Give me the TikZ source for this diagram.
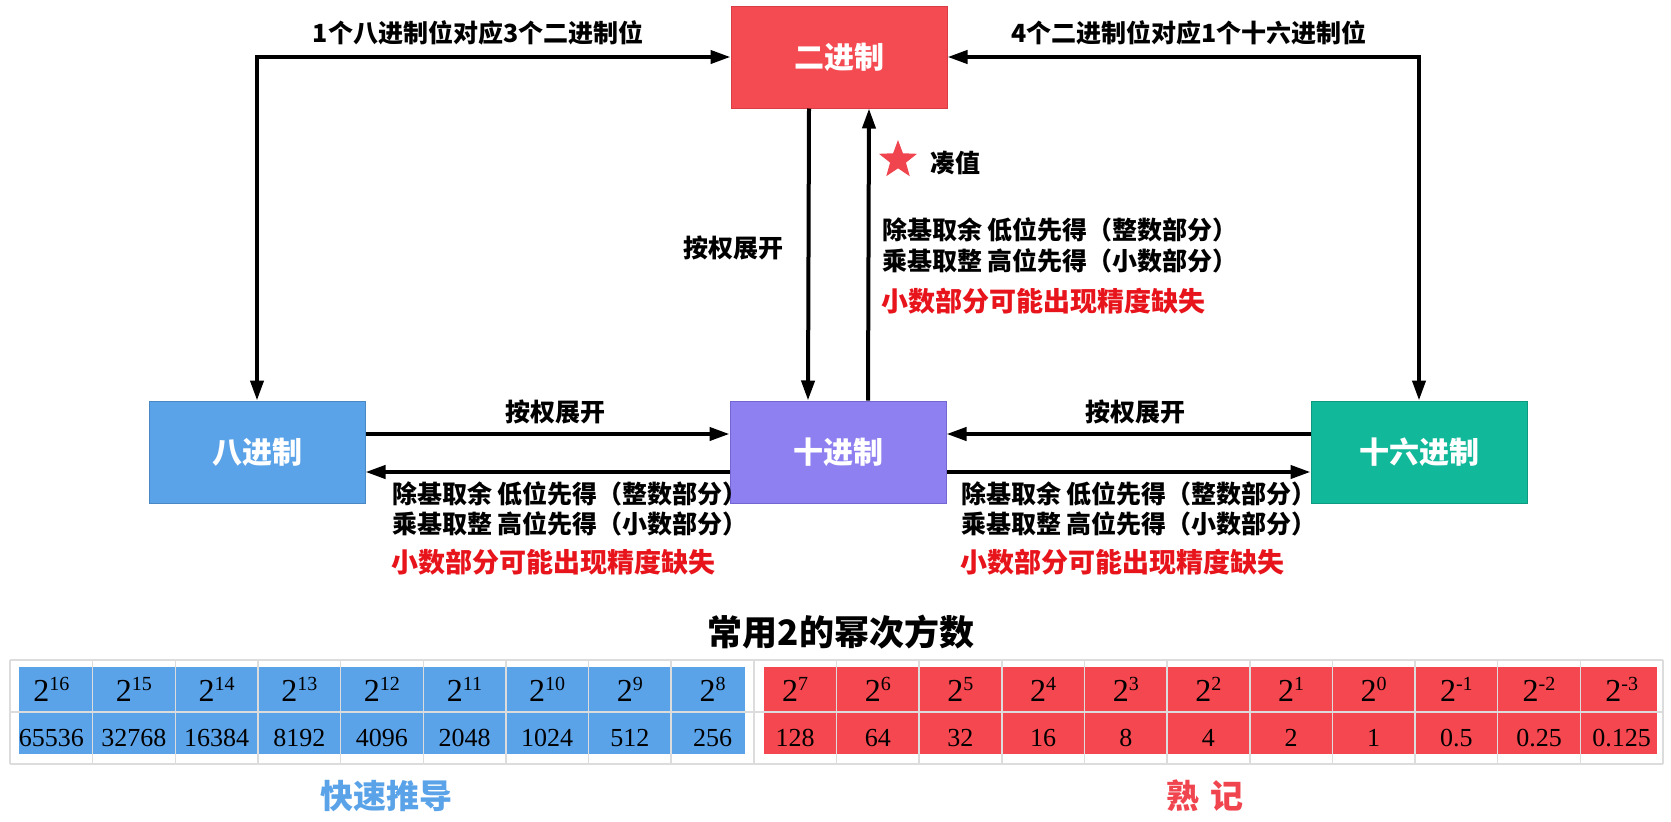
\documentclass[tikz,border=0pt]{standalone}
\usepackage{fontspec}
\newfontfamily\cjk{Noto Sans CJK SC}
\newfontfamily\numfont{Liberation Serif}
\usetikzlibrary{arrows.meta,shapes.geometric}
\definecolor{binred}{HTML}{F44A52}
\definecolor{binredd}{HTML}{D83C44}
\definecolor{octblue}{HTML}{5BA3E8}
\definecolor{octblued}{HTML}{4A88C4}
\definecolor{decpur}{HTML}{8E80F0}
\definecolor{decpurd}{HTML}{7466D2}
\definecolor{hexgrn}{HTML}{12B89A}
\definecolor{hexgrnd}{HTML}{0E9A80}
\definecolor{warnred}{HTML}{E8141C}
\definecolor{gridgray}{HTML}{DCDCDC}
\definecolor{tblblue}{HTML}{5BA3E9}
\definecolor{tblred}{HTML}{F5474F}
\definecolor{starred}{HTML}{F0454F}
\begin{document}
\begin{tikzpicture}[x=1pt,y=-1pt,
  box/.style={draw, line width=1pt, minimum width=216pt, minimum height=102pt, inner sep=0pt, text=white, font=\cjk\bfseries\fontsize{30}{30}\selectfont},
  conn/.style={line width=4pt, -{Triangle[length=20pt,width=13pt]}},
  dconn/.style={line width=4pt, {Triangle[length=20pt,width=13pt]}-{Triangle[length=20pt,width=13pt]}},
  lbl/.style={font=\cjk\bfseries\fontsize{25}{25}\selectfont, inner sep=0pt},
  warn/.style={font=\cjk\bfseries\fontsize{27}{27}\selectfont, inner sep=0pt, text=warnred},
  pw/.style={font=\numfont\fontsize{32}{32}\selectfont, inner sep=0pt},
  val/.style={font=\numfont\fontsize{26}{26}\selectfont, inner sep=0pt}
]
\useasboundingbox (0,0) rectangle (1671,822);
\fill[white] (0,0) rectangle (1671,822);

% boxes
\node[box, fill=binred, draw=binredd] (bin) at (839,57) {二进制};
\node[box, fill=octblue, draw=octblued] (oct) at (257,452) {八进制};
\node[box, fill=decpur, draw=decpurd] (dec) at (838,452) {十进制};
\node[box, fill=hexgrn, draw=hexgrnd] (hex) at (1419,452) {十六进制};

% corner coordinates
\coordinate (cl) at (oct.north |- bin.west);
\coordinate (cr) at (hex.north |- bin.east);

% connectors
\draw[dconn] (bin.west) -- (cl) -- (oct.north);
\draw[dconn] (bin.east) -- (cr) -- (hex.north);
\draw[conn] ([xshift=-30pt]bin.south) -- ([xshift=-30pt]dec.north);
\draw[conn] ([xshift=30pt]dec.north) -- ([xshift=30pt]bin.south);
\draw[conn] ([yshift=18pt]oct.east) -- ([yshift=18pt]dec.west);
\draw[conn] ([yshift=-20pt]dec.west) -- ([yshift=-20pt]oct.east);
\draw[conn] ([yshift=18pt]hex.west) -- ([yshift=18pt]dec.east);
\draw[conn] ([yshift=-20pt]dec.east) -- ([yshift=-20pt]hex.west);

% labels
\node[lbl] (l1) at (478,33) {1个八进制位对应3个二进制位};
\node[lbl] (l2) at (1189,33) {4个二进制位对应1个十六进制位};
\node[lbl] (l3) at (733,248) {按权展开};
\node[star, star points=5, star point ratio=2.4, fill=starred, minimum size=40pt, inner sep=0pt] (star) at (898,160) {};
\node[lbl, anchor=west] (cz) at (930,163) {凑值};
\node[lbl, anchor=west] (r1) at (882,230) {除基取余 低位先得（整数部分）};
\node[lbl, anchor=west] (r2) at (882,261) {乘基取整 高位先得（小数部分）};
\node[warn, anchor=west] (r3) at (881,301) {小数部分可能出现精度缺失};

\node[lbl] (l4) at (555,412) {按权展开};
\node[lbl, anchor=west] (a1) at (392,494) {除基取余 低位先得（整数部分）};
\node[lbl, anchor=west] (a2) at (392,524) {乘基取整 高位先得（小数部分）};
\node[warn, anchor=west] (a3) at (391,562) {小数部分可能出现精度缺失};

\node[lbl] (l5) at (1135,412) {按权展开};
\node[lbl, anchor=west] (b1) at (961,494) {除基取余 低位先得（整数部分）};
\node[lbl, anchor=west] (b2) at (961,524) {乘基取整 高位先得（小数部分）};
\node[warn, anchor=west] (b3) at (960,562) {小数部分可能出现精度缺失};

% table
\node[font=\cjk\bfseries\fontsize{35}{35}\selectfont, inner sep=0pt] (title) at (841,632) {常用2的幂次方数};
\fill[tblblue] (19,667) rectangle (745,754);
\fill[tblred] (764,667) rectangle (1657,754);
\foreach \i in {0,...,20} {
  \draw[gridgray, line width=1.5pt] ({10+82.65*\i},660) -- ({10+82.65*\i},764);
}
\foreach \yy in {660,712,764} {
  \draw[gridgray, line width=1.5pt] (10,\yy) -- (1663,\yy);
}
\foreach \e/\v [count=\i from 0] in {16/65536,15/32768,14/16384,13/8192,12/4096,11/2048,10/1024,9/512,8/256,7/128,6/64,5/32,4/16,3/8,2/4,1/2,0/1,-1/0.5,-2/0.25,-3/0.125} {
  \node[pw] (p\i) at ({10+82.65*(\i+0.5)},689) {2\raisebox{11pt}{\fontsize{20}{20}\selectfont\e}};
  \node[val] (v\i) at ({10+82.65*(\i+0.5)},738) {\v};
}
\node[font=\cjk\bfseries\fontsize{33}{33}\selectfont, text=octblue, inner sep=0pt] (fast) at (386,796) {快速推导};
\node[font=\cjk\bfseries\fontsize{33}{33}\selectfont, text=starred, inner sep=0pt] (mem) at (1205,796) {熟\hspace{12pt}记};
\end{tikzpicture}
\end{document}
